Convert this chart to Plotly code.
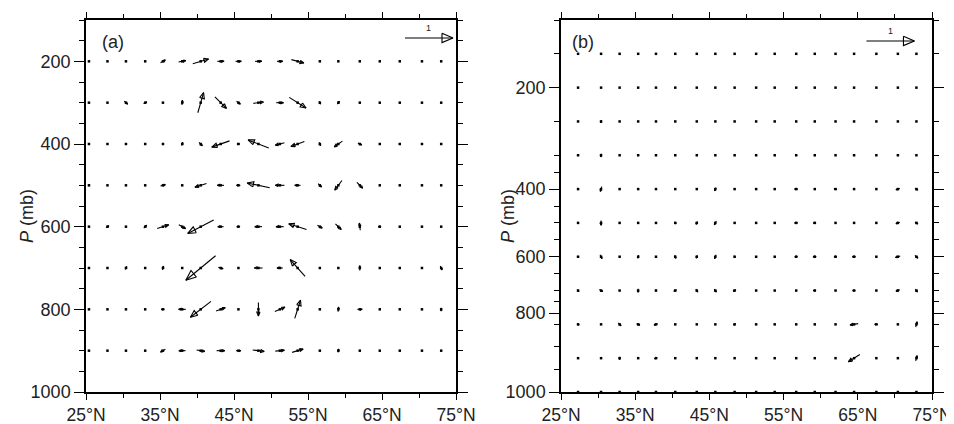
import math
import numpy as np
import plotly.graph_objects as go

# ---------------- data ----------------
# panel (a): latitude columns, pressure rows (mb), vector components (u right/+north, v up)
LAT_A = [25.4, 27.9, 30.4, 33.0, 35.4, 38.0, 40.5, 43.2, 45.6, 48.3,
         51.2, 53.6, 56.6, 59.1, 62.0, 64.7, 67.4, 70.4, 73.0]
LEV_A = [200, 300, 400, 500, 600, 700, 800, 900]
U_A = [
    [0, 0, 0, 0, .10, .15, .33, .14, .12, .14, .12, .26, 0, 0, 0, 0, 0, 0, 0],
    [0, 0, .07, .07, 0, .01, .12, .24, .08, .21, .15, .35, .03, .04, 0, 0, 0, 0, 0],
    [0, 0, 0, 0, 0, .02, .07, -.37, -.06, -.43, -.19, -.28, .03, -.17, .08, 0, 0, 0, 0],
    [0, 0, 0, 0, .10, 0, -.24, -.14, -.08, -.47, -.19, -.12, .07, -.15, .12, 0, 0, 0, 0],
    [0, .06, 0, .06, .24, .14, -.54, -.12, -.07, -.15, -.16, -.37, .10, .12, -.02, -.06, 0, 0, 0],
    [0, 0, .03, 0, .02, 0, -.62, .10, 0, -.17, -.12, -.31, 0, 0, 0, 0, 0, 0, .04],
    [0, 0, 0, 0, -.07, -.15, -.43, .19, 0, 0, .21, .12, 0, .01, .10, 0, 0, 0, 0],
    [0, 0, 0, 0, -.10, -.14, .17, .17, .10, .24, .19, .23, 0, .01, 0, 0, 0, 0, 0],
]
V_A = [
    [0, 0, 0, 0, .06, .03, .10, 0, 0, 0, 0, -.07, 0, 0, 0, 0, 0, 0, 0],
    [0, 0, -.06, .03, 0, .10, .42, -.24, -.06, .03, 0, -.22, -.06, .06, 0, 0, 0, 0, 0],
    [0, 0, 0, 0, 0, .07, -.07, -.13, 0, .17, -.05, -.10, -.07, -.12, -.04, 0, 0, 0, 0],
    [.04, 0, 0, 0, .03, 0, -.08, 0, 0, .10, 0, 0, -.07, -.20, -.12, 0, 0, 0, 0],
    [0, .04, 0, .06, .08, -.08, -.28, 0, 0, 0, 0, .12, -.06, -.12, .15, 0, 0, 0, 0],
    [0, 0, .06, 0, .08, 0, -.51, -.03, 0, 0, 0, .35, 0, 0, .10, 0, 0, 0, -.08],
    [0, 0, 0, 0, 0, 0, -.33, .07, 0, -.28, .09, .38, 0, .10, 0, 0, 0, 0, -.07],
    [0, 0, 0, 0, -.06, 0, -.03, 0, 0, -.03, .02, .07, 0, .07, 0, 0, 0, 0, 0],
]

# panel (b)
LAT_B = [27.3, 30.4, 32.9, 35.4, 37.8, 40.4, 43.3, 45.8, 48.4,
         51.3, 53.8, 56.7, 59.2, 62.0, 64.5, 67.5, 70.4, 72.9]
LEV_B = [150, 200, 250, 300, 400, 500, 600, 700, 850, 925, 1000]
U_B = [
    [0] * 18,
    [0] * 18,
    [0] * 18,
    [0, -.01, 0, 0, 0, 0, 0, 0, 0, 0, 0, 0, 0, 0, 0, 0, 0, 0],
    [-.02, -.03, 0, -.02, 0, 0, 0, -.03, 0, 0, 0, -.07, 0, -.06, 0, 0, -.08, .06],
    [-.01, 0, 0, -.02, 0, .03, -.03, -.04, 0, 0, 0, -.07, -.06, 0, 0, 0, -.08, .06],
    [.02, .04, 0, -.02, 0, .02, -.02, -.03, -.01, 0, 0, -.06, -.07, -.06, -.07, 0, -.10, .06],
    [.03, .07, 0, 0, -.03, -.06, .04, .04, -.06, 0, 0, -.03, -.06, 0, -.06, 0, -.08, .04],
    [.04, 0, .06, .07, -.08, 0, 0, 0, -.04, 0, 0, 0, 0, 0, -.17, -.07, 0, .03],
    [0, 0, 0, 0, -.06, 0, 0, 0, 0, 0, 0, 0, 0, 0, -.24, 0, 0, .03],
    [0] * 18,
]
V_B = [
    [0] * 18,
    [0] * 18,
    [0, -.06, 0, 0, 0, 0, 0, 0, 0, 0, 0, 0, 0, 0, 0, 0, 0, 0],
    [0, -.07, 0, 0, 0, 0, 0, 0, 0, 0, 0, 0, 0, 0, 0, 0, 0, 0],
    [-.03, -.10, 0, -.02, 0, 0, 0, -.07, 0, 0, 0, 0, 0, .02, 0, 0, -.03, -.04],
    [-.03, -.10, 0, -.02, 0, -.04, -.06, -.08, 0, 0, 0, 0, 0, 0, 0, 0, -.03, -.04],
    [-.03, -.08, 0, -.06, 0, -.07, -.06, -.08, -.03, 0, 0, 0, 0, 0, 0, 0, -.03, -.06],
    [-.04, -.04, 0, -.07, -.02, -.03, -.06, -.06, -.03, 0, 0, 0, 0, 0, 0, 0, -.03, -.06],
    [-.03, 0, -.06, -.03, -.03, 0, 0, 0, -.03, 0, 0, 0, 0, 0, -.03, 0, 0, .11],
    [0, 0, -.06, 0, -.02, 0, 0, 0, 0, 0, 0, 0, 0, 0, -.15, 0, 0, .11],
    [0] * 18,
]
# levels used by the (b) vertical axis (equal spacing per level)
AXIS_LEV_B = [100, 150, 200, 250, 300, 400, 500, 600, 700, 850, 925, 1000]

LAT_TICKS = [25, 35, 45, 55, 65, 75]
LAT_LABELS = ["25°N", "35°N", "45°N", "55°N", "65°N", "75°N"]
LAT_MINOR = [30, 40, 50, 60, 70]
P_TICKS = [200, 400, 600, 800, 1000]
P_LABELS = ["200", "400", "600", "800", "1000"]
P_MINOR = [p for p in range(100, 1001, 50) if p not in P_TICKS]
REF_VALUE = 1

# ---------------- layout geometry ----------------
W, H = 954, 424
PAGE_OFF = 8            # default page margin of the html body
PW, PH = 846, 372       # plot area size
ML, MT = 86 - PAGE_OFF, 20 - PAGE_OFF
MR = W - ML - PW
MB = H - MT - PH
DOM_A = [0, 370 / PW]
DOM_B = [475 / PW, 1]
XR = [25, 75]
UNIT_PX = 48.0
FONT = "Arial, Liberation Sans, sans-serif"
TXT = "#222"

sb_fp = list(range(len(AXIS_LEV_B) - 1, -1, -1))


def s_b(p):
    return float(np.interp(p, AXIS_LEV_B, sb_fp))


sx_a = (DOM_A[1] - DOM_A[0]) * PW / (XR[1] - XR[0])
sy_a = -PH / 900.0
sx_b = (DOM_B[1] - DOM_B[0]) * PW / (XR[1] - XR[0])
sy_b = PH / float(len(AXIS_LEV_B) - 1)


def add_arrow(xs, ys, xc, yc, u, v, sx, sy):
    px, py = u * UNIT_PX, v * UNIT_PX
    ln = math.hypot(px, py)
    if ln < 1.0:
        return
    ex, ey = px / ln, py / ln
    nx, ny = -ey, ex
    h = min(11.0, 0.25 * ln + 0.6)
    w = 0.42 * h

    def d(ox, oy):
        return xc + ox / sx, yc + oy / sy

    tail = d(-px / 2, -py / 2)
    tip = d(px / 2, py / 2)
    bx, by = px / 2 - ex * h, py / 2 - ey * h
    b1 = d(bx + nx * w, by + ny * w)
    b2 = d(bx - nx * w, by - ny * w)
    for pt in [tail, tip, None, b1, tip, b2, b1, None]:
        if pt is None:
            xs.append(None)
            ys.append(None)
        else:
            xs.append(pt[0])
            ys.append(pt[1])


fig = go.Figure()

# panel (a)
xa, ya, dxa, dya = [], [], [], []
for i, p in enumerate(LEV_A):
    for j, lat in enumerate(LAT_A):
        dxa.append(lat)
        dya.append(p)
        add_arrow(xa, ya, lat, p, U_A[i][j], V_A[i][j], sx_a, sy_a)
# reference arrow (a)
REF_A = (71.35, 143.5)
add_arrow(xa, ya, REF_A[0], REF_A[1], REF_VALUE, 0, sx_a, sy_a)

fig.add_trace(go.Scatter(x=dxa, y=dya, mode="markers", xaxis="x", yaxis="y",
                         marker=dict(symbol="square", size=2.5, color="black"),
                         hoverinfo="skip", showlegend=False))
fig.add_trace(go.Scatter(x=xa, y=ya, mode="lines", xaxis="x", yaxis="y",
                         line=dict(color="black", width=1.1),
                         hoverinfo="skip", showlegend=False))

# panel (b)
xb, yb, dxb, dyb = [], [], [], []
for i, p in enumerate(LEV_B):
    for j, lat in enumerate(LAT_B):
        s = s_b(p)
        dxb.append(lat)
        dyb.append(s)
        add_arrow(xb, yb, lat, s, U_B[i][j], V_B[i][j], sx_b, sy_b)
REF_B = (69.4, 10.38)
add_arrow(xb, yb, REF_B[0], REF_B[1], REF_VALUE, 0, sx_b, sy_b)

fig.add_trace(go.Scatter(x=dxb, y=dyb, mode="markers", xaxis="x2", yaxis="y2",
                         marker=dict(symbol="square", size=2.5, color="black"),
                         hoverinfo="skip", showlegend=False))
fig.add_trace(go.Scatter(x=xb, y=yb, mode="lines", xaxis="x2", yaxis="y2",
                         line=dict(color="black", width=1.1),
                         hoverinfo="skip", showlegend=False))

axis_common = dict(showgrid=False, zeroline=False, showline=True, linecolor="black",
                   linewidth=1.5, ticks="outside", tickwidth=1.2, automargin=False,
                   tickcolor="black", mirror="ticks",
                   tickfont=dict(family=FONT, size=18, color=TXT))

xa_cfg = dict(axis_common, range=XR, tickmode="array", tickvals=LAT_TICKS, ticktext=LAT_LABELS,
              ticklen=6, tickfont=dict(family=FONT, size=17.5, color=TXT),
              minor=dict(tickmode="array", tickvals=LAT_MINOR, ticks="outside", ticklen=4,
                         tickwidth=1, tickcolor="black"))

ya_minor = dict(ticks="outside", ticklen=5, tickwidth=1, tickcolor="black", tickmode="array")


def paper_x(px):
    return (px - PAGE_OFF - ML) / PW


def paper_y(py):
    return 1 - (py - PAGE_OFF - MT) / PH


fig.update_layout(
    width=W, height=H,
    margin=dict(l=ML, r=MR, t=MT, b=MB),
    paper_bgcolor="white", plot_bgcolor="white",
    xaxis=dict(xa_cfg, domain=DOM_A, anchor="y"),
    xaxis2=dict(xa_cfg, domain=DOM_B, anchor="y2"),
    yaxis=dict(axis_common, domain=[0, 1], anchor="x", range=[1000, 100], ticklen=10,
               tickmode="array", tickvals=P_TICKS, ticktext=P_LABELS,
               minor=dict(ya_minor, tickvals=P_MINOR)),
    yaxis2=dict(axis_common, domain=[0, 1], anchor="x2", range=[0, len(AXIS_LEV_B) - 1],
                ticklen=10, tickmode="array", tickvals=[s_b(p) for p in P_TICKS],
                ticktext=P_LABELS,
                minor=dict(ya_minor, tickvals=[s_b(p) for p in P_MINOR])),
    annotations=[
        dict(text="<i>P</i> (mb)", x=paper_x(27), y=paper_y(216), xref="paper", yref="paper",
             textangle=-90, showarrow=False, xanchor="center", yanchor="middle",
             font=dict(family=FONT, size=18, color=TXT)),
        dict(text="<i>P</i> (mb)", x=paper_x(508), y=paper_y(216), xref="paper", yref="paper",
             textangle=-90, showarrow=False, xanchor="center", yanchor="middle",
             font=dict(family=FONT, size=18, color=TXT)),
        dict(text="(a)", x=0.038, y=0.94, xref="x domain", yref="y domain",
             xanchor="left", yanchor="middle", showarrow=False,
             font=dict(family=FONT, size=18, color=TXT)),
        dict(text="(b)", x=0.025, y=0.94, xref="x2 domain", yref="y2 domain",
             xanchor="left", yanchor="middle", showarrow=False,
             font=dict(family=FONT, size=18, color=TXT)),
        dict(text="1", x=REF_A[0], y=REF_A[1], xref="x", yref="y", yshift=10,
             showarrow=False, font=dict(family=FONT, size=9, color=TXT)),
        dict(text="1", x=REF_B[0], y=REF_B[1], xref="x2", yref="y2", yshift=10,
             showarrow=False, font=dict(family=FONT, size=9, color=TXT)),
    ],
)

fig.write_html("out.html")
